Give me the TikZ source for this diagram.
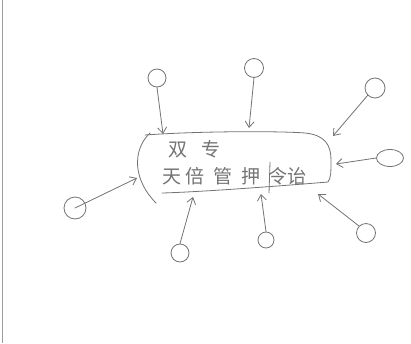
\documentclass[tikz,border=0pt]{standalone}
\usepackage{fontspec}
\newfontfamily\cjk{Noto Sans CJK SC}
\usetikzlibrary{arrows.meta,shapes.geometric}
\definecolor{pen}{gray}{0.45}
\begin{document}
\begin{tikzpicture}[x=1pt,y=-1pt,
  ink/.style={draw=pen, line width=0.8pt, line cap=round, line join=round},
  loopnode/.style={ink, circle, minimum size=#1, inner sep=0pt},
  oval/.style={ink, ellipse, minimum width=27pt, minimum height=17pt, inner sep=0pt},
  arr/.style={ink, -{Straight Barb[length=6pt,width=9pt]}},
  hand/.style={text=pen, font=\cjk\fontsize{19}{19}\selectfont, inner sep=0pt}]
\useasboundingbox (0,0) rectangle (411,343);
% left border of the scanned sheet
\draw[pen!70, line width=1pt] (2,0) -- (2,343);
% main box
\draw[ink] (145,135) .. controls (200,131) and (280,131) .. (305,133)
  .. controls (325,135) and (331,145) .. (331,160)
  .. controls (331,172) and (331,178) .. (328,182)
  .. controls (280,186) and (200,192) .. (162,193);
\draw[ink] (150,133) .. controls (132,150) and (133,180) .. (156,203);
\draw[ink] (270,162) -- (269,193);
\node[hand, anchor=west] (t1) at (168,149) {双\hspace{14pt}专};
\node[hand, anchor=west] (t2) at (162,176) {天\hspace{4pt}倍\hspace{9pt}管\hspace{9pt}押\hspace{8pt}令诒};
% loops
\node[loopnode=18pt] (c1) at (157,78) {};
\node[loopnode=19pt] (c2) at (254,68) {};
\node[loopnode=20pt] (c3) at (375,88) {};
\node[oval] (c4) at (390,158) {};
\node[loopnode=19pt] (c5) at (366,233) {};
\node[loopnode=16pt] (c6) at (266,240) {};
\node[loopnode=18pt] (c7) at (180,253) {};
\node[loopnode=22pt] (c8) at (75,208) {};
% arrow ends on the box
\coordinate (e1) at (163,134);
\coordinate (e2) at (249,128);
\coordinate (e3) at (333,136);
\coordinate (e4) at (336,164);
\coordinate (e5) at (318,194);
\coordinate (e6) at (261,194);
\coordinate (e7) at (193,197);
\coordinate (e8) at (137,178);
\draw[arr] (c1.south) -- (e1);
\draw[arr] (c2.south) -- (e2);
\draw[arr] (c3.south west) -- (e3);
\draw[arr] (c4.west) -- (e4);
\draw[arr] (c5.north west) -- (e5);
\draw[arr] (c6.north) -- (e6);
\draw[arr] (c7.north) -- (e7);
\draw[arr] (c8.center) -- (e8);
\end{tikzpicture}
\end{document}
